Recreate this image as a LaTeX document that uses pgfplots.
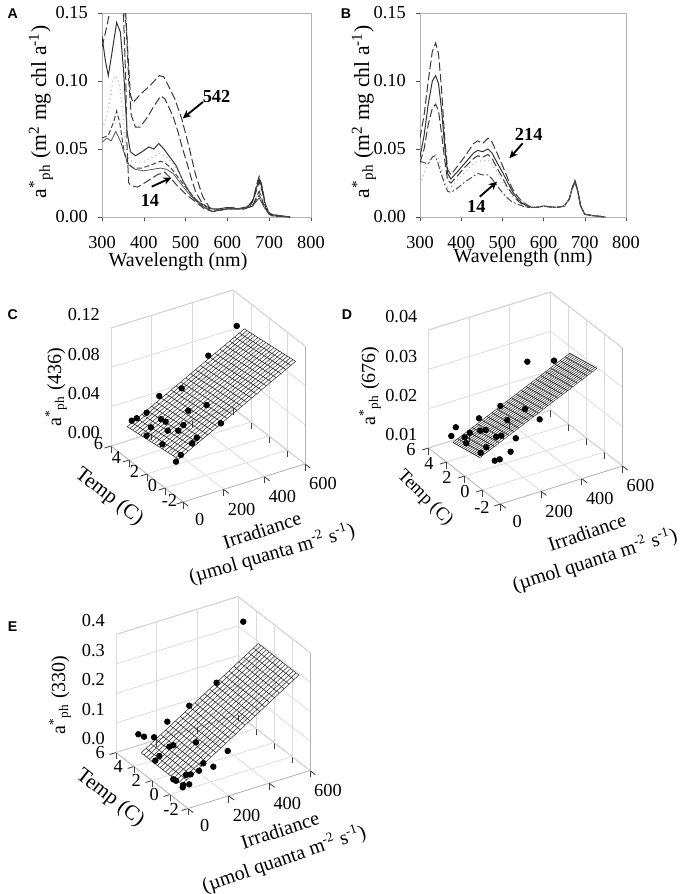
\documentclass[border=0pt]{standalone}
\usepackage{pgfplots}
\pgfplotsset{compat=1.18}
\usepackage{fontspec}
\setmainfont{Liberation Serif}
\newfontfamily\panelfont{Liberation Sans}
\usetikzlibrary{arrows.meta}

\pgfplotsset{
  twod/.style={
    anchor=south west, scale only axis,
    xmin=300, xmax=800, ymin=0, ymax=0.15,
    xtick={300,400,...,800}, ytick={0,0.05,0.10,0.15},
    ticklabel style={font=\fontsize{11}{13}\selectfont, inner sep=1pt},
    yticklabel style={/pgf/number format/fixed,/pgf/number format/fixed zerofill,/pgf/number format/precision=2, xshift=-4.9pt},
    /pgf/number format/assume math mode=true,
    axis line style={gray!60}, tick style={gray!60!black},
    tick align=outside, major tick length=2.5pt, tick pos=left,
    xticklabel style={yshift=-7.9pt}, 
    every axis plot/.append style={line width=0.6pt, mark=none},
  },
  ldash/.style={gray!45!black, dash pattern=on 5pt off 2pt},
  sdash/.style={gray!55!black, dash pattern=on 3pt off 1.5pt},
  ddot/.style={black!70, dash pattern=on 4pt off 1.5pt on 1pt off 1.5pt},
  dots/.style={gray!55, dotted, line width=0.8pt},
  solidc/.style={gray!40!black},
  threed/.style={
    anchor=south west,
    xmin=0, xmax=600, ymin=-2, ymax=6,
    xtick={0,200,400,600}, ytick={-2,0,2,4,6},
    grid=major, grid style={gray!30, line width=0.4pt},
    axis line style={gray!60},
    tick style={gray!50!black, line width=0.5pt},
    tick align=outside, major tick length=4pt,
    xtick pos=left, ytick pos=left,
    every z tick/.append style={draw=none},
    ticklabel style={font=\fontsize{11}{13}\selectfont},
    xticklabel style={xshift=3pt},
    /pgf/number format/assume math mode=true,
    scaled z ticks=false,
    clip=false,
  },
  meshline/.style={black!85, line width=0.3pt, mark=none, unbounded coords=jump},
  dotmark/.style={only marks, mark=*, mark size=1.7pt, black},
}

\begin{document}
\begin{tikzpicture}
\path[use as bounding box] (0,0) rectangle (411.6pt,-536.4pt);

% ---------------- Panel A ----------------
\begin{axis}[twod, at={(61.2pt,-130.2pt)}, width=125.4pt, height=122.4pt]
\addplot[ldash] coordinates {(300,0.16)(340,0.16)(355,0.16)(362,0.12)(368,0.09)(374,0.084)(391,0.090)(416,0.097)(437,0.104)(448,0.103)(458,0.097)(474,0.087)(491,0.072)(507,0.053)(524,0.031)(541,0.015)(557,0.007)(570,0.005)(590,0.006)(610,0.007)(630,0.006)(650,0.008)(662,0.013)(670,0.024)(676,0.030)(682,0.024)(690,0.010)(700,0.003)(715,0.001)(750,0.000)};
\addplot[ldash] coordinates {(300,0.125)(310,0.138)(318,0.150)(325,0.165)(350,0.165)(358,0.14)(364,0.10)(370,0.075)(380,0.066)(391,0.066)(410,0.074)(425,0.082)(441,0.089)(450,0.087)(458,0.082)(470,0.074)(482,0.0625)(493,0.050)(503,0.040)(514,0.028)(524,0.0185)(540,0.010)(557,0.006)(575,0.005)(600,0.006)(630,0.006)(655,0.008)(668,0.018)(676,0.026)(684,0.018)(692,0.006)(705,0.001)(750,0.0)};
\addplot[solidc] coordinates {(300,0.133)(308,0.115)(315,0.104)(323,0.119)(335,0.143)(344,0.136)(352,0.106)(360,0.0625)(368,0.048)(380,0.045)(396,0.048)(412,0.0515)(424,0.050)(436,0.054)(448,0.050)(460,0.045)(477,0.038)(493,0.027)(509,0.0185)(525,0.0124)(549,0.0076)(565,0.0059)(580,0.006)(600,0.007)(620,0.006)(645,0.007)(660,0.011)(668,0.020)(676,0.028)(684,0.020)(692,0.007)(705,0.001)(750,0.0)};
\addplot[dots] coordinates {(300,0.065)(310,0.072)(318,0.085)(326,0.100)(333,0.104)(342,0.098)(350,0.075)(358,0.050)(366,0.042)(380,0.040)(400,0.041)(420,0.044)(440,0.047)(455,0.044)(470,0.039)(485,0.032)(500,0.024)(520,0.015)(545,0.008)(565,0.005)(600,0.006)(640,0.006)(660,0.009)(676,0.020)(688,0.010)(700,0.002)(750,0.0)};
\addplot[sdash] coordinates {(300,0.058)(315,0.060)(328,0.070)(335,0.078)(342,0.070)(352,0.050)(360,0.040)(375,0.036)(395,0.036)(415,0.038)(440,0.041)(450,0.040)(465,0.036)(480,0.030)(500,0.022)(520,0.014)(545,0.007)(565,0.004)(600,0.006)(640,0.006)(660,0.008)(676,0.016)(688,0.008)(700,0.002)(750,0.0)};
\addplot[black!70, line width=0.45pt] coordinates {(300,0.055)(312,0.058)(322,0.056)(333,0.063)(345,0.055)(355,0.045)(365,0.038)(380,0.035)(400,0.034)(420,0.035)(440,0.036)(455,0.035)(470,0.032)(485,0.026)(500,0.020)(520,0.013)(545,0.007)(565,0.004)(600,0.006)(640,0.006)(660,0.008)(676,0.014)(688,0.007)(700,0.002)(750,0.0)};
\addplot[ldash, black!75] coordinates {(300,0.16)(350,0.16)(357,0.10)(360,0.05)(364,0.025)(370,0.023)(385,0.022)(407,0.026)(432,0.031)(450,0.033)(466,0.028)(480,0.023)(500,0.017)(520,0.012)(545,0.006)(565,0.004)(600,0.006)(640,0.006)(660,0.008)(676,0.019)(688,0.008)(700,0.002)(750,0.0)};
\draw[-{Stealth[length=5pt,width=4.5pt]}, line width=1.1pt] (axis cs:541.6,0.0846) -- (axis cs:493,0.0725);
\node[font=\fontsize{11}{13}\selectfont\bfseries] at (axis cs:574,0.0886) {542};
\draw[-{Stealth[length=5pt,width=4.5pt]}, line width=1.1pt] (axis cs:418.9,0.0223) -- (axis cs:466.5,0.0290);
\node[font=\fontsize{11}{13}\selectfont\bfseries] at (axis cs:414.8,0.0120) {14};
\end{axis}

% ---------------- Panel B ----------------
\begin{axis}[twod, at={(252pt,-130.2pt)}, width=123.6pt, height=122.4pt]
\addplot[ldash] coordinates {(300,0.058)(310,0.075)(320,0.100)(330,0.122)(338,0.128)(345,0.120)(352,0.095)(360,0.058)(367,0.035)(375,0.031)(390,0.037)(410,0.045)(430,0.054)(440,0.056)(452,0.054)(465,0.058)(475,0.055)(487,0.047)(500,0.038)(512,0.029)(524,0.021)(537,0.015)(549,0.011)(565,0.008)(580,0.007)(600,0.008)(630,0.007)(650,0.008)(662,0.013)(670,0.022)(676,0.027)(682,0.021)(690,0.008)(700,0.002)(720,0.001)(750,0.0)};
\addplot[solidc] coordinates {(300,0.044)(310,0.060)(320,0.083)(330,0.100)(338,0.104)(345,0.098)(352,0.080)(360,0.052)(367,0.032)(375,0.028)(390,0.033)(410,0.040)(430,0.047)(440,0.049)(452,0.048)(465,0.050)(475,0.047)(487,0.040)(500,0.033)(512,0.026)(524,0.019)(537,0.013)(549,0.010)(565,0.007)(580,0.007)(600,0.008)(630,0.007)(650,0.008)(662,0.013)(670,0.022)(676,0.026)(682,0.020)(690,0.008)(700,0.002)(720,0.001)(750,0.0)};
\addplot[ldash] coordinates {(300,0.040)(310,0.050)(320,0.068)(330,0.080)(338,0.083)(345,0.078)(352,0.062)(360,0.042)(367,0.027)(375,0.025)(390,0.030)(410,0.037)(430,0.043)(440,0.045)(452,0.044)(465,0.046)(475,0.043)(487,0.036)(500,0.029)(512,0.022)(524,0.017)(537,0.012)(549,0.009)(565,0.007)(580,0.007)(600,0.008)(630,0.007)(650,0.008)(662,0.013)(670,0.021)(676,0.026)(682,0.020)(690,0.008)(700,0.002)(720,0.001)(750,0.0)};
\addplot[dots] coordinates {(300,0.024)(310,0.032)(320,0.040)(330,0.045)(338,0.046)(345,0.043)(352,0.035)(360,0.027)(367,0.022)(375,0.022)(390,0.027)(410,0.033)(430,0.039)(440,0.041)(452,0.041)(465,0.042)(475,0.039)(487,0.033)(500,0.026)(512,0.020)(524,0.015)(549,0.009)(565,0.007)(580,0.007)(600,0.008)(630,0.007)(650,0.008)(662,0.013)(670,0.021)(676,0.025)(682,0.019)(690,0.008)(700,0.002)(720,0.001)(750,0.0)};
\addplot[ddot] coordinates {(300,0.041)(310,0.040)(320,0.039)(330,0.044)(336,0.045)(342,0.041)(350,0.033)(360,0.024)(367,0.019)(375,0.018)(390,0.021)(410,0.026)(430,0.030)(440,0.032)(452,0.031)(465,0.031)(475,0.028)(487,0.023)(500,0.018)(512,0.014)(524,0.011)(549,0.008)(565,0.007)(580,0.007)(600,0.008)(630,0.007)(650,0.008)(662,0.013)(670,0.021)(676,0.026)(682,0.020)(690,0.008)(700,0.002)(720,0.001)(750,0.0)};
\draw[-{Stealth[length=5pt,width=4.5pt]}, line width=1.1pt] (axis cs:549.3,0.0542) -- (axis cs:517,0.0432);
\node[font=\fontsize{11}{13}\selectfont\bfseries] at (axis cs:563.8,0.0610) {214};
\draw[-{Stealth[length=5pt,width=4.5pt]}, line width=1.1pt] (axis cs:445,0.0149) -- (axis cs:487,0.0260);
\node[font=\fontsize{11}{13}\selectfont\bfseries] at (axis cs:436.7,0.0076) {14};
\end{axis}

% ---------------- Panel C ----------------
\begin{axis}[threed, at={(66.6pt,-301.2pt)},
  x={(0.122pt,0.038pt)}, y={(-5.4pt,4.2pt)}, z={(0pt,590pt)},
  zmin=0, zmax=0.12, ztick={0,0.04,0.08,0.12},
  yticklabel style={yshift=10.5pt, xshift=2pt},
  zticklabel style={yshift=3pt,/pgf/number format/fixed,/pgf/number format/fixed zerofill,/pgf/number format/precision=2}]
\addplot3[meshline] table[row sep=\\] {
0 -1.5 0.0400\\ 0 4.2 0.0324\\ nan nan nan\\
24 -1.5 0.0426\\ 24 4.2 0.0350\\ nan nan nan\\
48 -1.5 0.0452\\ 48 4.2 0.0376\\ nan nan nan\\
72 -1.5 0.0478\\ 72 4.2 0.0402\\ nan nan nan\\
96 -1.5 0.0504\\ 96 4.2 0.0428\\ nan nan nan\\
120 -1.5 0.0530\\ 120 4.2 0.0454\\ nan nan nan\\
144 -1.5 0.0556\\ 144 4.2 0.0480\\ nan nan nan\\
168 -1.5 0.0582\\ 168 4.2 0.0506\\ nan nan nan\\
192 -1.5 0.0608\\ 192 4.2 0.0532\\ nan nan nan\\
216 -1.5 0.0634\\ 216 4.2 0.0558\\ nan nan nan\\
240 -1.5 0.0660\\ 240 4.2 0.0584\\ nan nan nan\\
264 -1.5 0.0686\\ 264 4.2 0.0610\\ nan nan nan\\
288 -1.5 0.0712\\ 288 4.2 0.0636\\ nan nan nan\\
312 -1.5 0.0738\\ 312 4.2 0.0662\\ nan nan nan\\
336 -1.5 0.0764\\ 336 4.2 0.0688\\ nan nan nan\\
360 -1.5 0.0790\\ 360 4.2 0.0714\\ nan nan nan\\
384 -1.5 0.0816\\ 384 4.2 0.0740\\ nan nan nan\\
408 -1.5 0.0842\\ 408 4.2 0.0766\\ nan nan nan\\
432 -1.5 0.0868\\ 432 4.2 0.0792\\ nan nan nan\\
456 -1.5 0.0894\\ 456 4.2 0.0818\\ nan nan nan\\
480 -1.5 0.0920\\ 480 4.2 0.0844\\ nan nan nan\\
504 -1.5 0.0946\\ 504 4.2 0.0870\\ nan nan nan\\
528 -1.5 0.0972\\ 528 4.2 0.0896\\ nan nan nan\\
552 -1.5 0.0998\\ 552 4.2 0.0922\\ nan nan nan\\
576 -1.5 0.1024\\ 576 4.2 0.0948\\ nan nan nan\\
0 -1.5 0.0400\\ 576 -1.5 0.1024\\ nan nan nan\\
0 -1.2 0.0396\\ 576 -1.2 0.1020\\ nan nan nan\\
0 -0.9 0.0392\\ 576 -0.9 0.1016\\ nan nan nan\\
0 -0.6 0.0388\\ 576 -0.6 0.1012\\ nan nan nan\\
0 -0.3 0.0384\\ 576 -0.3 0.1008\\ nan nan nan\\
0 0.0 0.0380\\ 576 0.0 0.1004\\ nan nan nan\\
0 0.3 0.0376\\ 576 0.3 0.1000\\ nan nan nan\\
0 0.6 0.0372\\ 576 0.6 0.0996\\ nan nan nan\\
0 0.9 0.0368\\ 576 0.9 0.0992\\ nan nan nan\\
0 1.2 0.0364\\ 576 1.2 0.0988\\ nan nan nan\\
0 1.5 0.0360\\ 576 1.5 0.0984\\ nan nan nan\\
0 1.8 0.0356\\ 576 1.8 0.0980\\ nan nan nan\\
0 2.1 0.0352\\ 576 2.1 0.0976\\ nan nan nan\\
0 2.4 0.0348\\ 576 2.4 0.0972\\ nan nan nan\\
0 2.7 0.0344\\ 576 2.7 0.0968\\ nan nan nan\\
0 3.0 0.0340\\ 576 3.0 0.0964\\ nan nan nan\\
0 3.3 0.0336\\ 576 3.3 0.0960\\ nan nan nan\\
0 3.6 0.0332\\ 576 3.6 0.0956\\ nan nan nan\\
0 3.9 0.0328\\ 576 3.9 0.0952\\ nan nan nan\\
0 4.2 0.0324\\ 576 4.2 0.0948\\
};
\addplot3[dotmark] table[row sep=\\] {
570 4.90 0.0932\\ 410 4.45 0.0765\\ 244 3.66 0.0596\\ 171 4.50 0.0505\\
241 0.82 0.0630\\ 183 1.55 0.0558\\ 88 4.03 0.0422\\ 30 4.37 0.0354\\
49 4.24 0.0376\\ 97 2.63 0.0450\\ 98 2.15 0.0458\\ 210 -1.47 0.0627\\
125 0.78 0.0505\\ 48 2.65 0.0397\\ 73 1.34 0.0441\\ 95 0.67 0.0474\\
11 2.29 0.0362\\ 111 -1.03 0.0513\\ 16 0.65 0.0388\\ 82 -1.17 0.0485\\
19 -1.34 0.0419\\ 0 -1.22 0.0355\\
};
\end{axis}

% ---------------- Panel D ----------------
\begin{axis}[threed, at={(257.1pt,-302.4pt)},
  x={(0.122pt,0.038pt)}, y={(-5.4pt,4.2pt)}, z={(0pt,2360pt)},
  zmin=0.01, zmax=0.04, ztick={0.01,0.02,0.03,0.04},
  yticklabel style={yshift=8pt, xshift=-1pt},
  zticklabel style={yshift=3pt,/pgf/number format/fixed,/pgf/number format/fixed zerofill,/pgf/number format/precision=2}]
\addplot3[meshline] table[row sep=\\] {
0 0.3 0.01770\\ 0 3.3 0.01620\\ nan nan nan\\
24 0.3 0.01826\\ 24 3.3 0.01676\\ nan nan nan\\
48 0.3 0.01882\\ 48 3.3 0.01732\\ nan nan nan\\
72 0.3 0.01938\\ 72 3.3 0.01788\\ nan nan nan\\
96 0.3 0.01994\\ 96 3.3 0.01844\\ nan nan nan\\
120 0.3 0.02050\\ 120 3.3 0.01900\\ nan nan nan\\
144 0.3 0.02106\\ 144 3.3 0.01956\\ nan nan nan\\
168 0.3 0.02162\\ 168 3.3 0.02012\\ nan nan nan\\
192 0.3 0.02218\\ 192 3.3 0.02068\\ nan nan nan\\
216 0.3 0.02274\\ 216 3.3 0.02124\\ nan nan nan\\
240 0.3 0.02330\\ 240 3.3 0.02180\\ nan nan nan\\
264 0.3 0.02386\\ 264 3.3 0.02236\\ nan nan nan\\
288 0.3 0.02442\\ 288 3.3 0.02292\\ nan nan nan\\
312 0.3 0.02498\\ 312 3.3 0.02348\\ nan nan nan\\
336 0.3 0.02554\\ 336 3.3 0.02404\\ nan nan nan\\
360 0.3 0.02610\\ 360 3.3 0.02460\\ nan nan nan\\
384 0.3 0.02666\\ 384 3.3 0.02516\\ nan nan nan\\
408 0.3 0.02722\\ 408 3.3 0.02572\\ nan nan nan\\
432 0.3 0.02778\\ 432 3.3 0.02628\\ nan nan nan\\
456 0.3 0.02834\\ 456 3.3 0.02684\\ nan nan nan\\
480 0.3 0.02890\\ 480 3.3 0.02740\\ nan nan nan\\
504 0.3 0.02946\\ 504 3.3 0.02796\\ nan nan nan\\
528 0.3 0.03002\\ 528 3.3 0.02852\\ nan nan nan\\
552 0.3 0.03058\\ 552 3.3 0.02908\\ nan nan nan\\
576 0.3 0.03114\\ 576 3.3 0.02964\\ nan nan nan\\
0 0.3 0.0177\\ 576 0.3 0.03114\\ nan nan nan\\
0 0.5 0.0176\\ 576 0.5 0.03104\\ nan nan nan\\
0 0.7 0.0175\\ 576 0.7 0.03094\\ nan nan nan\\
0 0.9 0.0174\\ 576 0.9 0.03084\\ nan nan nan\\
0 1.1 0.0173\\ 576 1.1 0.03074\\ nan nan nan\\
0 1.3 0.0172\\ 576 1.3 0.03064\\ nan nan nan\\
0 1.5 0.0171\\ 576 1.5 0.03054\\ nan nan nan\\
0 1.7 0.0170\\ 576 1.7 0.03044\\ nan nan nan\\
0 1.9 0.0169\\ 576 1.9 0.03034\\ nan nan nan\\
0 2.1 0.0168\\ 576 2.1 0.03024\\ nan nan nan\\
0 2.3 0.0167\\ 576 2.3 0.03014\\ nan nan nan\\
0 2.5 0.0166\\ 576 2.5 0.03004\\ nan nan nan\\
0 2.7 0.0165\\ 576 2.7 0.02994\\ nan nan nan\\
0 2.9 0.0164\\ 576 2.9 0.02984\\ nan nan nan\\
0 3.1 0.0163\\ 576 3.1 0.02974\\ nan nan nan\\
0 3.3 0.0162\\ 576 3.3 0.02964\\
};
\addplot3[dotmark] table[row sep=\\] {
456 5.32 0.02581\\ 515 3.69 0.02802\\ 235 3.32 0.02167\\ 275 1.49 0.02351\\
145 3.66 0.01938\\ 197 1.70 0.02160\\ 267 -0.32 0.02424\\ 63 4.39 0.01712\\
21 3.94 0.01638\\ 72 3.04 0.01800\\ 101 2.53 0.01894\\ 115 2.24 0.01942\\
44 2.98 0.01738\\ 112 1.00 0.01997\\ 126 0.76 0.02042\\ 147 -0.38 0.02146\\
25 2.37 0.01725\\ 52 0.75 0.01869\\ 20 0.66 0.01798\\ 86 -1.18 0.02045\\
20 -0.91 0.01876\\ 35 -1.12 0.01923\\
};
\end{axis}

% ---------------- Panel E ----------------
\begin{axis}[threed, at={(69.6pt,-485.1pt)},
  x={(0.122pt,0.038pt)}, y={(-5.4pt,4.2pt)}, z={(0pt,177pt)},
  zmin=0, zmax=0.4, ztick={0,0.1,0.2,0.3,0.4},
  yticklabel style={yshift=9pt},
  zticklabel style={yshift=4pt,/pgf/number format/fixed,/pgf/number format/fixed zerofill,/pgf/number format/precision=1}]
\addplot3[meshline] table[row sep=\\] {
0 -1.3 0.0650\\ 0 3.2 0.0650\\ nan nan nan\\
24 -1.3 0.0753\\ 24 3.2 0.0753\\ nan nan nan\\
48 -1.3 0.0856\\ 48 3.2 0.0856\\ nan nan nan\\
72 -1.3 0.0959\\ 72 3.2 0.0959\\ nan nan nan\\
96 -1.3 0.1062\\ 96 3.2 0.1062\\ nan nan nan\\
120 -1.3 0.1165\\ 120 3.2 0.1165\\ nan nan nan\\
144 -1.3 0.1268\\ 144 3.2 0.1268\\ nan nan nan\\
168 -1.3 0.1371\\ 168 3.2 0.1371\\ nan nan nan\\
192 -1.3 0.1474\\ 192 3.2 0.1474\\ nan nan nan\\
216 -1.3 0.1577\\ 216 3.2 0.1577\\ nan nan nan\\
240 -1.3 0.1680\\ 240 3.2 0.1680\\ nan nan nan\\
264 -1.3 0.1783\\ 264 3.2 0.1783\\ nan nan nan\\
288 -1.3 0.1886\\ 288 3.2 0.1886\\ nan nan nan\\
312 -1.3 0.1989\\ 312 3.2 0.1989\\ nan nan nan\\
336 -1.3 0.2092\\ 336 3.2 0.2092\\ nan nan nan\\
360 -1.3 0.2195\\ 360 3.2 0.2195\\ nan nan nan\\
384 -1.3 0.2298\\ 384 3.2 0.2298\\ nan nan nan\\
408 -1.3 0.2401\\ 408 3.2 0.2401\\ nan nan nan\\
432 -1.3 0.2504\\ 432 3.2 0.2504\\ nan nan nan\\
456 -1.3 0.2607\\ 456 3.2 0.2607\\ nan nan nan\\
480 -1.3 0.2710\\ 480 3.2 0.2710\\ nan nan nan\\
504 -1.3 0.2813\\ 504 3.2 0.2813\\ nan nan nan\\
528 -1.3 0.2916\\ 528 3.2 0.2916\\ nan nan nan\\
552 -1.3 0.3019\\ 552 3.2 0.3019\\ nan nan nan\\
576 -1.3 0.3122\\ 576 3.2 0.3122\\ nan nan nan\\
0 -1.3 0.065\\ 576 -1.3 0.3122\\ nan nan nan\\
0 -1.0 0.065\\ 576 -1.0 0.3122\\ nan nan nan\\
0 -0.7 0.065\\ 576 -0.7 0.3122\\ nan nan nan\\
0 -0.4 0.065\\ 576 -0.4 0.3122\\ nan nan nan\\
0 -0.1 0.065\\ 576 -0.1 0.3122\\ nan nan nan\\
0 0.2 0.065\\ 576 0.2 0.3122\\ nan nan nan\\
0 0.5 0.065\\ 576 0.5 0.3122\\ nan nan nan\\
0 0.8 0.065\\ 576 0.8 0.3122\\ nan nan nan\\
0 1.1 0.065\\ 576 1.1 0.3122\\ nan nan nan\\
0 1.4 0.065\\ 576 1.4 0.3122\\ nan nan nan\\
0 1.7 0.065\\ 576 1.7 0.3122\\ nan nan nan\\
0 2.0 0.065\\ 576 2.0 0.3122\\ nan nan nan\\
0 2.3 0.065\\ 576 2.3 0.3122\\ nan nan nan\\
0 2.6 0.065\\ 576 2.6 0.3122\\ nan nan nan\\
0 2.9 0.065\\ 576 2.9 0.3122\\ nan nan nan\\
0 3.2 0.065\\ 576 3.2 0.3122\\
};
\addplot3[dotmark] table[row sep=\\] {
590 5.19 0.336\\ 370 3.18 0.224\\ 243 3.35 0.1693\\ 148 3.64 0.1287\\
47 4.58 0.0854\\ 53 4.08 0.0878\\ 74 3.44 0.0965\\ 153 0.57 0.1307\\
81 1.90 0.0997\\ 94 1.75 0.1052\\ 199 -1.92 0.1504\\ 32 1.90 0.0786\\
9 1.84 0.0690\\ 109 -1.24 0.1118\\ 129 -1.90 0.1117\\ 78 -1.46 0.0985\\
37 -0.95 0.0808\\ 49 -1.19 0.0861\\ 2 -0.32 0.0587\\ 3 -0.60 0.0603\\
2 -1.43 0.0658\\ 17 -1.75 0.0724\\ 0 -1.41 0.0579\\
};
\end{axis}

% ---------------- Labels ----------------
\begin{scope}[x=0.6pt, y=-0.6pt]
\node[font=\panelfont\bfseries\fontsize{8.5}{10}\selectfont] at (12.7,14) {A};
\node[font=\panelfont\bfseries\fontsize{8.5}{10}\selectfont] at (346,14) {B};
\node[font=\panelfont\bfseries\fontsize{8.5}{10}\selectfont] at (12.7,315) {C};
\node[font=\panelfont\bfseries\fontsize{8.5}{10}\selectfont] at (347,315) {D};
\node[font=\panelfont\bfseries\fontsize{8.5}{10}\selectfont] at (12.7,627) {E};

\node[font=\fontsize{12}{14}\selectfont, inner sep=1pt] at (178,262) {Wavelength (nm)};
\node[font=\fontsize{12}{14}\selectfont, inner sep=1pt] at (523,258) {Wavelength (nm)};
\node[rotate=90, font=\fontsize{13}{15}\selectfont] at (41,112) {a\textsuperscript{*}\textsubscript{ph} (m\textsuperscript{2} mg chl a\textsuperscript{-1})};
\node[rotate=90, font=\fontsize{13}{15}\selectfont] at (364,112) {a\textsuperscript{*}\textsubscript{ph} (m\textsuperscript{2} mg chl a\textsuperscript{-1})};

\node[rotate=90, font=\fontsize{12}{14}\selectfont] at (56,387) {a\textsuperscript{*}\textsubscript{ph} (436)};
\node[rotate=-38, font=\fontsize{12.5}{14}\selectfont, inner sep=1pt] at (109,497) {Temp (C)};
\node[rotate=18, font=\fontsize{12}{14}\selectfont, inner sep=1pt] at (262,530) {Irradiance};
\node[rotate=16, font=\fontsize{12}{14}\selectfont, inner sep=1pt] at (272,554) {(\textmu mol quanta m\textsuperscript{-2} s\textsuperscript{-1})};

\node[rotate=90, font=\fontsize{12}{14}\selectfont] at (370,386) {a\textsuperscript{*}\textsubscript{ph} (676)};
\node[rotate=-45, font=\fontsize{11}{13}\selectfont, inner sep=1pt] at (425,498) {Temp (C)};
\node[rotate=19, font=\fontsize{12}{14}\selectfont, inner sep=1pt] at (587,532) {Irradiance};
\node[rotate=17.4, font=\fontsize{12}{14}\selectfont, inner sep=1pt] at (595,560) {(\textmu mol quanta m\textsuperscript{-2} s\textsuperscript{-1})};

\node[rotate=90, font=\fontsize{12}{14}\selectfont] at (60,695) {a\textsuperscript{*}\textsubscript{ph} (330)};
\node[rotate=-38, font=\fontsize{12.5}{14}\selectfont, inner sep=1pt] at (110,798) {Temp (C)};
\node[rotate=18, font=\fontsize{12}{14}\selectfont, inner sep=1pt] at (280,830) {Irradiance};
\node[rotate=18.8, font=\fontsize{12}{14}\selectfont, inner sep=1pt] at (284,859) {(\textmu mol quanta m\textsuperscript{-2} s\textsuperscript{-1})};
\end{scope}
\end{tikzpicture}
\end{document}
